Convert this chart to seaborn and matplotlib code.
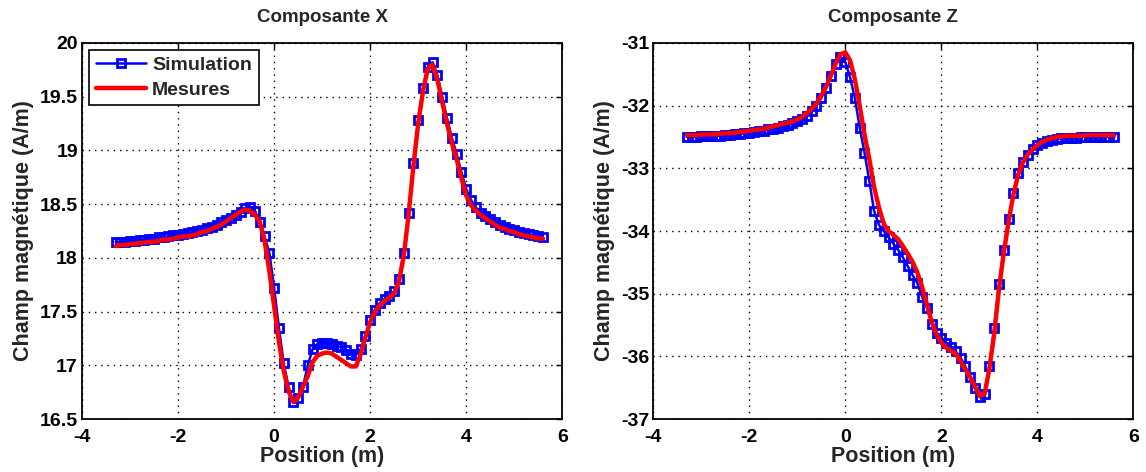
import numpy as np
import matplotlib
matplotlib.use('Agg')
import matplotlib.pyplot as plt
import seaborn as sns
from matplotlib.ticker import FormatStrFormatter

# positions (m)
position = [-3.3, -3.2, -3.1, -3.0, -2.9, -2.8, -2.7, -2.6, -2.5, -2.4,
            -2.3, -2.2, -2.1, -2.0, -1.9, -1.8, -1.7, -1.6, -1.5, -1.4,
            -1.3, -1.2, -1.1, -1.0, -0.9, -0.8, -0.7, -0.6, -0.5, -0.4,
            -0.3, -0.2, -0.1, 0.0, 0.1, 0.2, 0.3, 0.4, 0.5, 0.6,
            0.7, 0.8, 0.9, 1.0, 1.1, 1.2, 1.3, 1.4, 1.5, 1.6,
            1.7, 1.8, 1.9, 2.0, 2.1, 2.2, 2.3, 2.4, 2.5, 2.6,
            2.7, 2.8, 2.9, 3.0, 3.1, 3.2, 3.3, 3.4, 3.5, 3.6,
            3.7, 3.8, 3.9, 4.0, 4.1, 4.2, 4.3, 4.4, 4.5, 4.6,
            4.7, 4.8, 4.9, 5.0, 5.1, 5.2, 5.3, 5.4, 5.5, 5.6]

# Composante X
sim_x = [18.15, 18.15, 18.15, 18.16, 18.16, 18.17, 18.17, 18.18, 18.18, 18.19,
         18.19, 18.20, 18.21, 18.21, 18.22, 18.23, 18.24, 18.25, 18.26, 18.28,
         18.29, 18.31, 18.33, 18.35, 18.37, 18.40, 18.43, 18.46, 18.47, 18.44,
         18.33, 18.20, 18.05, 17.72, 17.35, 17.02, 16.80, 16.66, 16.70, 16.80,
         17.00, 17.15, 17.20, 17.21, 17.21, 17.20, 17.18, 17.17, 17.14, 17.11,
         17.10, 17.15, 17.27, 17.42, 17.52, 17.58, 17.62, 17.65, 17.69, 17.80,
         18.05, 18.42, 18.88, 19.28, 19.58, 19.78, 19.82, 19.70, 19.50, 19.30,
         19.12, 18.97, 18.80, 18.64, 18.54, 18.47, 18.42, 18.39, 18.36, 18.33,
         18.31, 18.29, 18.27, 18.26, 18.24, 18.23, 18.22, 18.21, 18.20, 18.19]
mes_x = [18.11, 18.12, 18.12, 18.13, 18.13, 18.14, 18.14, 18.15, 18.15, 18.16,
         18.17, 18.17, 18.18, 18.19, 18.20, 18.20, 18.21, 18.22, 18.24, 18.25,
         18.27, 18.29, 18.31, 18.34, 18.37, 18.40, 18.43, 18.45, 18.44, 18.40,
         18.34, 18.16, 17.88, 17.55, 17.22, 16.95, 16.76, 16.66, 16.70, 16.80,
         16.90, 17.03, 17.09, 17.11, 17.12, 17.11, 17.08, 17.05, 17.02, 16.99,
         16.99, 17.10, 17.26, 17.40, 17.50, 17.56, 17.60, 17.63, 17.67, 17.78,
         18.02, 18.40, 18.85, 19.25, 19.55, 19.76, 19.80, 19.66, 19.45, 19.25,
         19.07, 18.92, 18.74, 18.58, 18.49, 18.44, 18.40, 18.37, 18.34, 18.31,
         18.28, 18.27, 18.25, 18.24, 18.22, 18.21, 18.20, 18.19, 18.18, 18.18]

# Composante Z
sim_z = [-32.50, -32.50, -32.50, -32.49, -32.49, -32.49, -32.48, -32.48, -32.47, -32.47,
         -32.46, -32.45, -32.44, -32.43, -32.42, -32.41, -32.40, -32.38, -32.37, -32.35,
         -32.33, -32.31, -32.28, -32.25, -32.21, -32.16, -32.09, -32.00, -31.88, -31.72,
         -31.52, -31.33, -31.22, -31.30, -31.55, -31.88, -32.35, -32.75, -33.20, -33.68,
         -33.90, -34.00, -34.10, -34.20, -34.30, -34.42, -34.56, -34.70, -34.83, -35.05,
         -35.22, -35.48, -35.62, -35.70, -35.78, -35.85, -35.92, -36.02, -36.16, -36.33,
         -36.50, -36.65, -36.60, -36.15, -35.55, -34.85, -34.30, -33.80, -33.40, -33.08,
         -32.90, -32.78, -32.69, -32.63, -32.59, -32.56, -32.54, -32.53, -32.52, -32.51,
         -32.51, -32.51, -32.50, -32.50, -32.50, -32.50, -32.50, -32.50, -32.50, -32.50]
mes_z = [-32.47, -32.47, -32.47, -32.46, -32.46, -32.46, -32.45, -32.45, -32.44, -32.44,
         -32.43, -32.42, -32.41, -32.40, -32.39, -32.38, -32.37, -32.35, -32.33, -32.31,
         -32.29, -32.27, -32.25, -32.22, -32.18, -32.12, -32.05, -31.96, -31.84, -31.70,
         -31.52, -31.33, -31.18, -31.15, -31.28, -31.58, -32.00, -32.46, -32.85, -33.30,
         -33.62, -33.88, -34.00, -34.06, -34.13, -34.24, -34.36, -34.49, -34.66, -34.89,
         -35.17, -35.45, -35.65, -35.78, -35.86, -35.91, -35.96, -36.08, -36.21, -36.33,
         -36.48, -36.63, -36.60, -36.20, -35.65, -34.93, -34.35, -33.85, -33.42, -33.10,
         -32.90, -32.78, -32.70, -32.63, -32.58, -32.54, -32.52, -32.50, -32.49, -32.48,
         -32.48, -32.48, -32.48, -32.47, -32.47, -32.47, -32.47, -32.47, -32.47, -32.47]

titles = ['Composante X', 'Composante Z']
x_ticks = [-4, -2, 0, 2, 4, 6]
yticks_x = [16.5, 17, 17.5, 18, 18.5, 19, 19.5, 20]
yticks_z = [-37, -36, -35, -34, -33, -32, -31]

sns.set_style('white')
plt.rcParams['font.family'] = ['Liberation Sans', 'DejaVu Sans']
plt.rcParams['font.weight'] = 'bold'
plt.rcParams['axes.unicode_minus'] = False

fig = plt.figure(figsize=(11.46, 4.72), dpi=100)
ax1 = fig.add_axes([0.0716, 0.112, 0.419, 0.797])
ax2 = fig.add_axes([0.570, 0.112, 0.419, 0.797])

panels = [(ax1, sim_x, mes_x, yticks_x), (ax2, sim_z, mes_z, yticks_z)]
for i, (ax, sim, mes, yt) in enumerate(panels):
    sns.lineplot(x=position, y=sim, ax=ax, color='blue', linewidth=1.8,
                 marker='s', markersize=5.5, markerfacecolor='none',
                 markeredgecolor='blue', markeredgewidth=2, label='Simulation')
    sns.lineplot(x=position, y=mes, ax=ax, color='red', linewidth=3.2, label='Mesures')
    ax.set_xlim(-4, 6)
    ax.set_ylim(yt[0], yt[-1])
    ax.set_xticks(x_ticks)
    ax.set_yticks(yt)
    ax.yaxis.set_major_formatter(FormatStrFormatter('%g'))
    ax.grid(True, linestyle=(0, (1, 3.5)), color='black', linewidth=1)
    ax.tick_params(direction='in', top=True, right=True, length=4, width=1,
                   labelsize=14, colors='black', pad=3)
    ax.tick_params(axis='x', pad=7)
    for s in ax.spines.values():
        s.set_visible(True)
        s.set_color('black')
        s.set_linewidth(1.3)
    ax.set_title(titles[i], fontsize=13.5, fontweight='bold', pad=15)
    ax.set_xlabel('Position (m)', fontsize=15.5, fontweight='bold', labelpad=0)
    ax.set_ylabel('Champ magnétique (A/m)', fontsize=15.5, fontweight='bold', labelpad=4)
    if i == 0:
        leg = ax.legend(loc='upper left', fontsize=14, frameon=True, fancybox=False,
                        edgecolor='black', framealpha=1, borderpad=0.35,
                        handlelength=2.6, handletextpad=0.3, labelspacing=0.35,
                        borderaxespad=0.35)
        leg.get_frame().set_linewidth(1.2)
    else:
        ax.get_legend().remove()

fig.savefig('out.png', dpi=100)
